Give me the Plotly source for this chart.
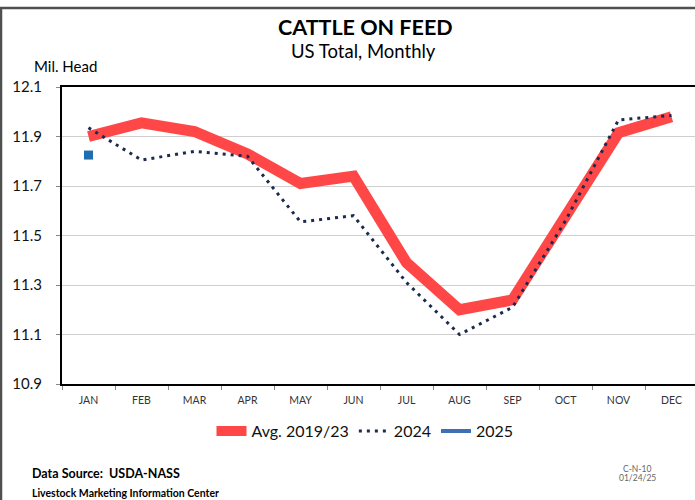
import plotly.graph_objects as go

months = ["JAN", "FEB", "MAR", "APR", "MAY", "JUN", "JUL", "AUG", "SEP", "OCT", "NOV", "DEC"]
avg_2019_23 = [11.90, 11.955, 11.92, 11.83, 11.71, 11.74, 11.39, 11.20, 11.24, 11.57, 11.915, 11.98]
y2024 = [11.935, 11.805, 11.84, 11.82, 11.555, 11.58, 11.31, 11.10, 11.21, 11.56, 11.967, 11.985]
months_2025 = ["JAN"]
y2025 = [11.825]

FONT = "Lato"
W, H = 695, 500
ML, MR, MT, MB = 62, 0, 87, 116
PW, PH = W - ML - MR, H - MT - MB


def px(x):
    return (x - ML) / PW


def py(y):
    return (H - MB - y) / PH


fig = go.Figure()
fig.add_trace(go.Scatter(x=months, y=avg_2019_23, mode="lines", name="Avg. 2019/23",
                         line=dict(color="#FF4747", width=11)))
fig.add_trace(go.Scatter(x=months, y=y2024, mode="lines", name="2024",
                         line=dict(color="#1B2A4E", width=3, dash="3px,5px")))
fig.add_trace(go.Scatter(x=months_2025, y=y2025, mode="markers", name="2025",
                         marker=dict(color="#1F6FB0", symbol="square", size=9),
                         showlegend=False, legendgroup="2025"))
fig.add_trace(go.Scatter(x=[None], y=[None], mode="lines", name="2025",
                         line=dict(color="#3C6FB5", width=4), legendgroup="2025"))

fig.update_layout(
    width=W, height=H,
    margin=dict(l=ML, r=MR, t=MT, b=MB, autoexpand=False),
    paper_bgcolor="white", plot_bgcolor="white",
    font=dict(family=FONT, color="#111111"),
    showlegend=True,
    legend=dict(orientation="h", x=px(365), xanchor="center", y=py(414), yanchor="top",
                font=dict(size=16, family=FONT), tracegroupgap=0),
    xaxis=dict(categoryorder="array", categoryarray=months, range=[-0.5, 11.443],
               showline=True, linecolor="black", linewidth=2, mirror=True,
               ticks="outside", tickson="boundaries", ticklen=4, tickcolor="#888888",
               ticklabelstandoff=5,
               tickfont=dict(size=10.5, color="#333333"), showgrid=False, zeroline=False),
    yaxis=dict(range=[10.9, 12.1], dtick=0.2, tick0=10.9, tickformat=".1f",
               showline=True, linecolor="black", linewidth=2, mirror=False,
               ticks="outside", ticklen=4, tickcolor="#888888",
               ticklabelstandoff=11,
               tickfont=dict(size=15, color="#111111"),
               showgrid=True, gridcolor="#CFCFCF", gridwidth=1, zeroline=False),
    shapes=[dict(type="rect", xref="paper", yref="paper",
                 x0=px(1), x1=px(720), y0=py(520), y1=py(8),
                 line=dict(color="#505050", width=2.5), layer="below")],
)

fig.add_annotation(text="<b>CATTLE ON FEED</b>", xref="paper", yref="paper",
                   x=px(365), y=py(27), xanchor="center", yanchor="middle",
                   showarrow=False, font=dict(size=21.5, family=FONT, color="black"))
fig.add_annotation(text="US Total, Monthly", xref="paper", yref="paper",
                   x=px(363), y=py(51), xanchor="center", yanchor="middle",
                   showarrow=False, font=dict(size=18.5, family=FONT, color="black"))
fig.add_annotation(text="Mil. Head", xref="paper", yref="paper",
                   x=px(32), y=py(66), xanchor="left", yanchor="middle",
                   showarrow=False, font=dict(size=15, family=FONT, color="black"))
fig.add_annotation(text="<b>Data Source:  USDA-NASS</b>", xref="paper", yref="paper",
                   x=px(30), y=py(473), xanchor="left", yanchor="middle",
                   showarrow=False, font=dict(size=12.5, family=FONT, color="black"))
fig.add_annotation(text="<b>Livestock Marketing Information Center</b>", xref="paper", yref="paper",
                   x=px(30), y=py(493), xanchor="left", yanchor="middle",
                   showarrow=False, font=dict(size=10.5, family=FONT, color="black"))
fig.add_annotation(text="C-N-10", xref="paper", yref="paper",
                   x=px(637), y=py(469), xanchor="center", yanchor="middle",
                   showarrow=False, font=dict(size=8.5, family=FONT, color="#666666"))
fig.add_annotation(text="01/24/25", xref="paper", yref="paper",
                   x=px(637), y=py(478), xanchor="center", yanchor="middle",
                   showarrow=False, font=dict(size=8.5, family=FONT, color="#666666"))

fig.write_html("out.html", config={"displayModeBar": False},
               post_script=("document.documentElement.style.overflow='hidden';"
                            "document.body.style.margin='0';document.body.style.overflow='hidden';"))
